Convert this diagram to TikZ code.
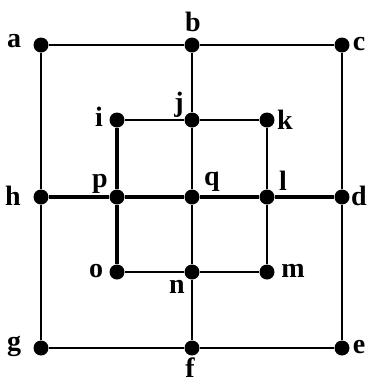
\documentclass[tikz,border=0pt]{standalone}
\usepackage{fontspec}
\setmainfont{Liberation Serif}
\begin{document}
\begin{tikzpicture}[x=1pt,y=-1pt,
  vtx/.style={circle,fill=black,inner sep=0pt,minimum size=15pt},
  lbl/.style={font=\fontsize{28}{28}\selectfont\bfseries,inner sep=0pt},
  edge/.style={line width=2.8pt},
  thick edge/.style={line width=3.6pt}]
\useasboundingbox (0,0) rectangle (368,384);
\node[vtx] (a) at (41,45) {};
\node[vtx] (b) at (192,45) {};
\node[vtx] (c) at (342,45) {};
\node[vtx] (i) at (117,120) {};
\node[vtx] (j) at (192,120) {};
\node[vtx] (k) at (267,120) {};
\node[vtx] (h) at (41,197) {};
\node[vtx] (p) at (117,197) {};
\node[vtx] (q) at (192,197) {};
\node[vtx] (l) at (267,197) {};
\node[vtx] (d) at (342,197) {};
\node[vtx] (o) at (117,272) {};
\node[vtx] (n) at (192,272) {};
\node[vtx] (m) at (267,272) {};
\node[vtx] (g) at (41,348) {};
\node[vtx] (f) at (192,348) {};
\node[vtx] (e) at (342,348) {};
\node[lbl] (la) at (14,41) {a};
\node[lbl] (lb) at (193,22) {b};
\node[lbl] (lc) at (359,44) {c};
\node[lbl] (li) at (99,117) {i};
\node[lbl] (lj) at (179,105) {j};
\node[lbl] (lk) at (285,120) {k};
\node[lbl] (lh) at (13,196) {h};
\node[lbl] (lp) at (100,184) {p};
\node[lbl] (lq) at (212,182) {q};
\node[lbl] (ll) at (283,181) {l};
\node[lbl] (ld) at (359,196) {d};
\node[lbl] (lo) at (96,271) {o};
\node[lbl] (ln) at (177,287) {n};
\node[lbl] (lm) at (293,271) {m};
\node[lbl] (lg) at (14,346) {g};
\node[lbl] (lf) at (190,368) {f};
\node[lbl] (le) at (359,347) {e};
\draw[edge] (a) -- (b) -- (c) -- (d) -- (e) -- (f) -- (g) -- (h) -- (a);
\draw[edge] (b) -- (j) -- (q) -- (n) -- (f);
\draw[thick edge] (h) -- (p) -- (q) -- (l) -- (d);
\draw[edge] (i) -- (j) -- (k) -- (l) -- (m) -- (n) -- (o);
\draw[thick edge] (o) -- (p) -- (i);
\end{tikzpicture}
\end{document}
